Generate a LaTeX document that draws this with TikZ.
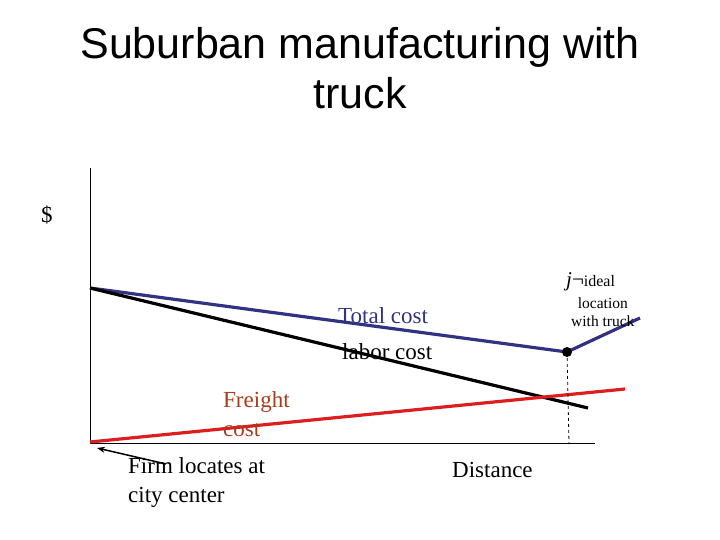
\documentclass[tikz,border=0pt]{standalone}
\usepackage{fontspec}
\usetikzlibrary{arrows.meta}
\setmainfont{Liberation Serif}
\newfontfamily\sans{Liberation Sans}
\definecolor{tcblue}{RGB}{50,50,130}
\definecolor{fred}{RGB}{220,30,30}
\definecolor{ftxt}{RGB}{170,60,30}
\begin{document}
\begin{tikzpicture}[x=1pt,y=-1pt,
  lbl/.style={inner sep=0pt,anchor=north west,align=left,font=\fontsize{23}{29}\selectfont}]
\useasboundingbox (0,0) rectangle (720,540);
\node[font=\sans\fontsize{43}{50}\selectfont,align=center] (title) at (360,68) {Suburban manufacturing with\\truck};
\node[lbl,font=\fontsize{23}{26}\selectfont] (dollar) at (41,206) {\$};
\coordinate (o) at (90,443);
\coordinate (ytop) at (90,168);
\coordinate (xend) at (595,443);
\draw[line width=0.8pt] (ytop) -- (o) -- (xend);
\coordinate (s) at (90,288);
\coordinate (m) at (567,352);
\coordinate (r) at (640,318);
\coordinate (bend) at (588,408);
\coordinate (rs) at (90,442);
\coordinate (re) at (625,389);
\coordinate (mb) at (569,443);
\draw[tcblue,line width=3.2pt] (s) -- (m) -- (r);
\draw[black,line width=3.2pt] (s) -- (bend);
\draw[fred,line width=3.2pt] (rs) -- (re);
\draw[dashed,line width=0.8pt] (m) -- (mb);
\fill (m) circle (5pt);
\node[lbl,text=tcblue] (tc) at (338,307) {Total cost};
\node[lbl] (lc) at (342,343) {labor cost};
\node[lbl,text=ftxt] (fc) at (223,391) {Freight\\cost};
\node[lbl] (firm) at (128,457) {Firm locates at\\city center};
\node[lbl] (dist) at (452,462) {Distance};
\node[lbl,font=\fontsize{21}{24}\selectfont] (ideal) at (566,272) {\textit{j}\textlnot\fontsize{16}{24}\selectfont ideal};
\node[lbl,font=\fontsize{15.5}{18}\selectfont,align=center] (loc) at (571,298) {location\\with truck};
\coordinate (atail) at (166,464);
\coordinate (atip) at (97,448);
\draw[-{Stealth[length=8pt]},line width=1.5pt] (atail) -- (atip);
\end{tikzpicture}
\end{document}
